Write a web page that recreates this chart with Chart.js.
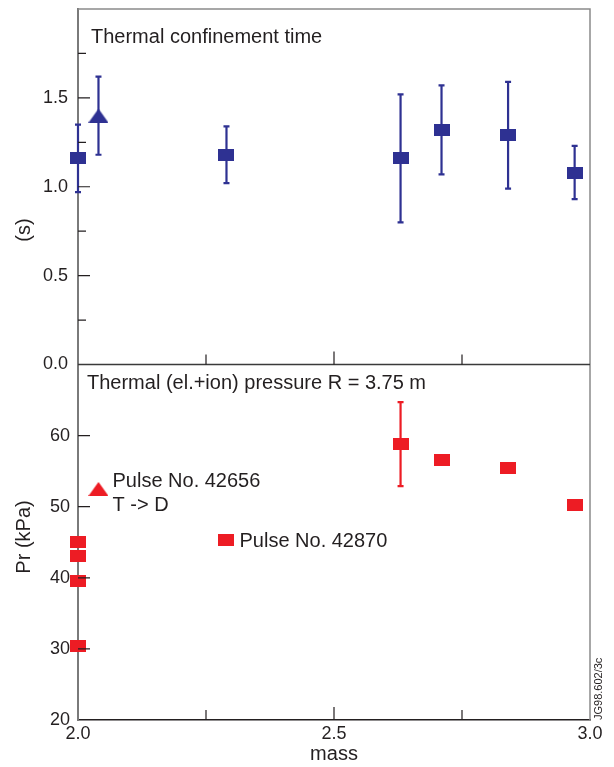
<!DOCTYPE html>
<html>
<head>
<meta charset="utf-8">
<script src="https://cdn.jsdelivr.net/npm/chart.js@4.4.1/dist/chart.umd.min.js"></script>
<style>
  html, body { margin: 0; padding: 0; background: #fff; }
  #wrap { position: relative; width: 614px; height: 767px; }
</style>
</head>
<body>
<div id="wrap"><canvas id="chart" width="614" height="767"></canvas></div>
<script>
// ---- data ----
// top panel: thermal confinement time (s)
const tauMass  = [2.00, 2.29, 2.63, 2.71, 2.84, 2.97];
const tauValue = [1.16, 1.18, 1.16, 1.32, 1.29, 1.08];
const tauLow   = [0.97, 1.02, 0.80, 1.07, 0.99, 0.93];
const tauHigh  = [1.35, 1.34, 1.52, 1.57, 1.59, 1.23];
// pulse 42656 (T -> D), triangle
const tauTriMass  = [2.04];
const tauTriValue = [1.40];
const tauTriLow   = [1.18];
const tauTriHigh  = [1.62];

// bottom panel: thermal pressure at R = 3.75 m (kPa)
const prMass  = [2.00, 2.00, 2.00, 2.00, 2.29, 2.63, 2.71, 2.84, 2.97];
const prValue = [45.0, 43.1, 39.5, 30.4, 45.3, 58.8, 56.6, 55.5, 50.2];
const prLow   = [null, null, null, null, null, 52.9, null, null, null];
const prHigh  = [null, null, null, null, null, 64.7, null, null, null];
const prTriMass  = [2.04];
const prTriValue = [52.5];

const xTickLabels   = ['2.0', '2.5', '3.0'];
const tauTickLabels = ['0.0', '0.5', '1.0', '1.5'];
const prTickLabels  = ['20', '30', '40', '50', '60'];

const BLUE = '#2e3192';
const RED = '#ed1c24';
const INK = '#231f20';
const FONT = '"Liberation Sans", Arial, sans-serif';

// ---- marker images ----
function rectMarker(color) {
  const c = document.createElement('canvas');
  c.width = 16; c.height = 12;
  const g = c.getContext('2d');
  g.fillStyle = color;
  g.fillRect(0, 0, 16, 12);
  return c;
}
function triMarker(color) {
  const c = document.createElement('canvas');
  c.width = 20; c.height = 14;
  const g = c.getContext('2d');
  g.fillStyle = color;
  g.beginPath();
  g.moveTo(0, 14); g.lineTo(10, 0); g.lineTo(20, 14);
  g.closePath();
  g.fill();
  return c;
}

function points(xs, ys) {
  return xs.map((x, i) => ({ x: x, y: ys[i] }));
}

function series(xs, ys, yAxis, color, marker, low, high) {
  return {
    data: points(xs, ys),
    yAxisID: yAxis,
    pointStyle: marker,
    pointRadius: 8,
    pointHoverRadius: 8,
    backgroundColor: color,
    borderColor: color,
    showLine: false,
    clip: false,
    errLow: low || [],
    errHigh: high || []
  };
}

// ---- custom drawing: error bars, inward ticks, frame, texts ----
const panelPlugin = {
  id: 'panels',
  beforeDatasetsDraw(chart) {
    const ctx = chart.ctx;
    const xs = chart.scales.x;
    chart.data.datasets.forEach(ds => {
      const ys = chart.scales[ds.yAxisID];
      ds.data.forEach((p, i) => {
        const lo = ds.errLow[i], hi = ds.errHigh[i];
        if (lo == null || hi == null) return;
        const px = xs.getPixelForValue(p.x);
        const y1 = ys.getPixelForValue(lo), y2 = ys.getPixelForValue(hi);
        ctx.save();
        ctx.strokeStyle = ds.borderColor;
        ctx.lineWidth = 2.2;
        ctx.beginPath();
        ctx.moveTo(px, y1); ctx.lineTo(px, y2);
        ctx.moveTo(px - 3, y1); ctx.lineTo(px + 3, y1);
        ctx.moveTo(px - 3, y2); ctx.lineTo(px + 3, y2);
        ctx.stroke();
        ctx.restore();
      });
    });
  },
  afterDraw(chart) {
    const ctx = chart.ctx;
    const xs = chart.scales.x, yt = chart.scales.yTau, yp = chart.scales.yPr;
    const area = chart.chartArea;
    ctx.save();

    // frame
    ctx.strokeStyle = '#8a8a8a';
    ctx.lineWidth = 1.5;
    ctx.beginPath();
    ctx.moveTo(area.left, area.top); ctx.lineTo(area.right, area.top);
    ctx.lineTo(area.right, area.bottom);
    ctx.stroke();
    ctx.strokeStyle = '#3a3a3a';
    ctx.beginPath();
    ctx.moveTo(area.left, yt.bottom); ctx.lineTo(area.right, yt.bottom);
    ctx.stroke();

    // inward ticks
    ctx.strokeStyle = INK;
    ctx.lineWidth = 1.2;
    ctx.beginPath();
    [yt, yp].forEach(s => {
      s.ticks.forEach(t => {
        if (t.value <= s.min || t.value >= s.max) return;
        const py = s.getPixelForValue(t.value);
        const len = t.label !== '' ? 12 : 8;
        ctx.moveTo(area.left, py); ctx.lineTo(area.left + len, py);
      });
      xs.ticks.forEach(t => {
        if (t.value <= xs.min || t.value >= xs.max) return;
        const px = xs.getPixelForValue(t.value);
        const len = t.label !== '' ? 13 : 10;
        ctx.moveTo(px, s.bottom); ctx.lineTo(px, s.bottom - len);
      });
    });
    ctx.stroke();

    // texts
    ctx.fillStyle = INK;
    ctx.font = '20px ' + FONT;
    ctx.textAlign = 'left';
    ctx.textBaseline = 'alphabetic';
    ctx.fillText('Thermal confinement time', area.left + 13, yt.top + 34);
    ctx.fillText('Thermal (el.+ion) pressure R = 3.75 m', area.left + 9, yp.top + 24);

    const triX = xs.getPixelForValue(prTriMass[0]);
    const triY = yp.getPixelForValue(prTriValue[0]);
    ctx.fillText('Pulse No. 42656', triX + 14, triY - 2);
    ctx.fillText('T -> D', triX + 14, triY + 22);

    const p2X = xs.getPixelForValue(prMass[4]);
    const p2Y = yp.getPixelForValue(prValue[4]);
    ctx.fillText('Pulse No. 42870', p2X + 13, p2Y + 7);

    ctx.textAlign = 'center';
    ctx.fillText('mass', (area.left + area.right) / 2, 760);

    ctx.textBaseline = 'middle';
    ctx.save();
    ctx.translate(24, 230);
    ctx.rotate(-Math.PI / 2);
    ctx.fillText('(s)', 0, 0);
    ctx.restore();
    ctx.save();
    ctx.translate(24, 537);
    ctx.rotate(-Math.PI / 2);
    ctx.fillText('Pr (kPa)', 0, 0);
    ctx.restore();

    ctx.save();
    ctx.font = '11px ' + FONT;
    ctx.textAlign = 'left';
    ctx.textBaseline = 'alphabetic';
    ctx.translate(area.right + 12, area.bottom);
    ctx.rotate(-Math.PI / 2);
    ctx.fillText('JG98.602/3c', 0, 0);
    ctx.restore();

    ctx.restore();
  }
};

function yAxisFit(s) {
  s.width = 78;
  s.paddingTop = 0;
  s.paddingBottom = 0;
}

const tickFont = { family: FONT, size: 18 };

new Chart(document.getElementById('chart'), {
  type: 'scatter',
  data: {
    datasets: [
      series(tauMass, tauValue, 'yTau', BLUE, rectMarker(BLUE), tauLow, tauHigh),
      series(tauTriMass, tauTriValue, 'yTau', BLUE, triMarker(BLUE), tauTriLow, tauTriHigh),
      series(prMass, prValue, 'yPr', RED, rectMarker(RED), prLow, prHigh),
      series(prTriMass, prTriValue, 'yPr', RED, triMarker(RED))
    ]
  },
  options: {
    responsive: false,
    animation: false,
    events: [],
    layout: { padding: { top: 7, right: 24, left: 0, bottom: 0 } },
    plugins: { legend: { display: false }, tooltip: { enabled: false } },
    scales: {
      x: {
        type: 'linear',
        min: 2, max: 3,
        afterFit(s) { s.height = 47; s.paddingLeft = 0; s.paddingRight = 0; },
        ticks: {
          stepSize: 0.25,
          autoSkip: false,
          maxRotation: 0,
          padding: 3,
          color: INK,
          font: tickFont,
          callback: v => { const l = v.toFixed(1); return xTickLabels.includes(l) && (v * 2) % 1 === 0 ? l : ''; }
        },
        grid: { display: false, drawTicks: false },
        border: { color: INK, width: 1.5 }
      },
      yPr: {
        type: 'linear',
        position: 'left',
        stack: 'panels',
        stackWeight: 1,
        min: 20, max: 70,
        afterFit: yAxisFit,
        ticks: {
          stepSize: 10,
          autoSkip: false,
          padding: 8,
          color: INK,
          font: tickFont,
          callback: v => { const l = String(v); return prTickLabels.includes(l) ? l : ''; }
        },
        grid: { display: false, drawTicks: false },
        border: { color: '#7a7a7a', width: 2 }
      },
      yTau: {
        type: 'linear',
        position: 'left',
        stack: 'panels',
        stackWeight: 1,
        min: 0, max: 2,
        afterFit: yAxisFit,
        ticks: {
          stepSize: 0.25,
          autoSkip: false,
          padding: 10,
          color: INK,
          font: tickFont,
          callback: v => { const l = v.toFixed(1); return tauTickLabels.includes(l) && (v * 2) % 1 === 0 ? l : ''; }
        },
        grid: { display: false, drawTicks: false },
        border: { color: '#7a7a7a', width: 2 }
      }
    }
  },
  plugins: [panelPlugin]
});
</script>
</body>
</html>
